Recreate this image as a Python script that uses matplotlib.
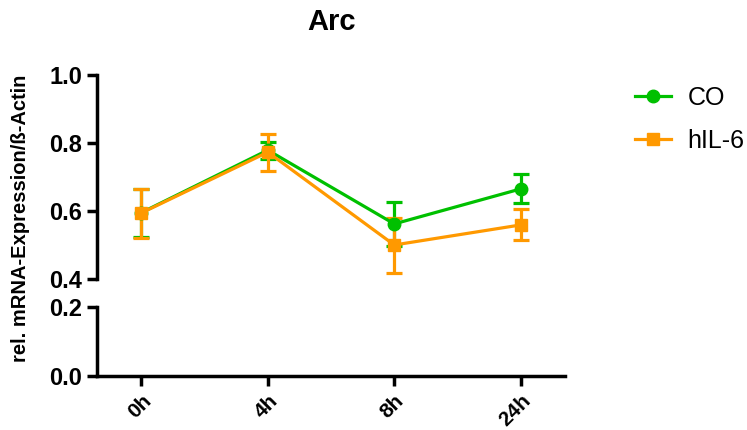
import numpy as np
import matplotlib.pyplot as plt
from matplotlib.lines import Line2D

plt.rcParams['font.family'] = ['Liberation Sans', 'DejaVu Sans']

times = ['0h', '4h', '8h', '24h']

co_mean = [0.595, 0.779, 0.562, 0.665]
co_low = [0.523, 0.753, 0.497, 0.623]
co_high = [0.664, 0.803, 0.627, 0.709]

il6_mean = [0.594, 0.773, 0.500, 0.559]
il6_low = [0.520, 0.718, 0.418, 0.515]
il6_high = [0.665, 0.826, 0.580, 0.605]

green = '#00C000'
orange = '#FF9900'

fig = plt.figure(figsize=(7.47, 4.3), dpi=100)
ax_top = fig.add_axes([0.1299, 0.3512, 0.6265, 0.4744])
ax_bot = fig.add_axes([0.1299, 0.1256, 0.6265, 0.1605])

x = np.arange(len(times))
series = [
    (co_mean, co_low, co_high, green, 'o', 'CO'),
    (il6_mean, il6_low, il6_high, orange, 's', 'hIL-6'),
]


def draw(ax):
    for mean, low, high, color, marker, label in series:
        mean = np.array(mean)
        yerr = [mean - np.array(low), np.array(high) - mean]
        ax.errorbar(x, mean, yerr=yerr, color=color, marker=marker,
                    markersize=9, lw=2.3, elinewidth=2.3, capsize=5.5,
                    capthick=2.3)


draw(ax_top)
draw(ax_bot)

for ax in (ax_top, ax_bot):
    ax.set_xlim(-0.35, 3.35)
    ax.spines['right'].set_visible(False)
    ax.spines['top'].set_visible(False)
    ax.spines['left'].set_linewidth(2.5)
    ax.spines['bottom'].set_linewidth(2.5)
    ax.tick_params(axis='both', width=2.5, length=7)

ax_top.set_ylim(0.4, 1.0)
ax_top.set_yticks([0.4, 0.6, 0.8, 1.0])
ax_top.set_yticklabels(['0.4', '0.6', '0.8', '1.0'], fontweight='bold',
                       fontsize=17)
ax_top.spines['bottom'].set_visible(False)
ax_top.set_xticks([])

ax_bot.set_ylim(0.0, 0.2)
ax_bot.set_yticks([0.0, 0.2])
ax_bot.set_yticklabels(['0.0', '0.2'], fontweight='bold', fontsize=17)
ax_bot.set_xticks(x)
ax_bot.set_xticklabels(times, rotation=45, ha='right', rotation_mode='anchor',
                       fontweight='bold', fontsize=15)
ax_bot.tick_params(axis='x', pad=4)

fig.text(0.444, 0.949, 'Arc', ha='center', va='center', fontsize=21,
         fontweight='bold')
fig.text(0.027, 0.493, 'rel. mRNA-Expression/ß-Actin', rotation=90,
         ha='center', va='center', fontsize=14.5, fontweight='bold')

handles = [Line2D([], [], color=c, marker=m, markersize=9, lw=2.3)
           for _, _, _, c, m, _ in series]
labels = [s[5] for s in series]
fig.legend(handles, labels, loc='upper left', bbox_to_anchor=(0.850, 0.800),
           frameon=False, fontsize=18, handlelength=1.45, handletextpad=0.65,
           labelspacing=0.75, borderpad=0, borderaxespad=0)

fig.savefig('out.png', dpi=100)
